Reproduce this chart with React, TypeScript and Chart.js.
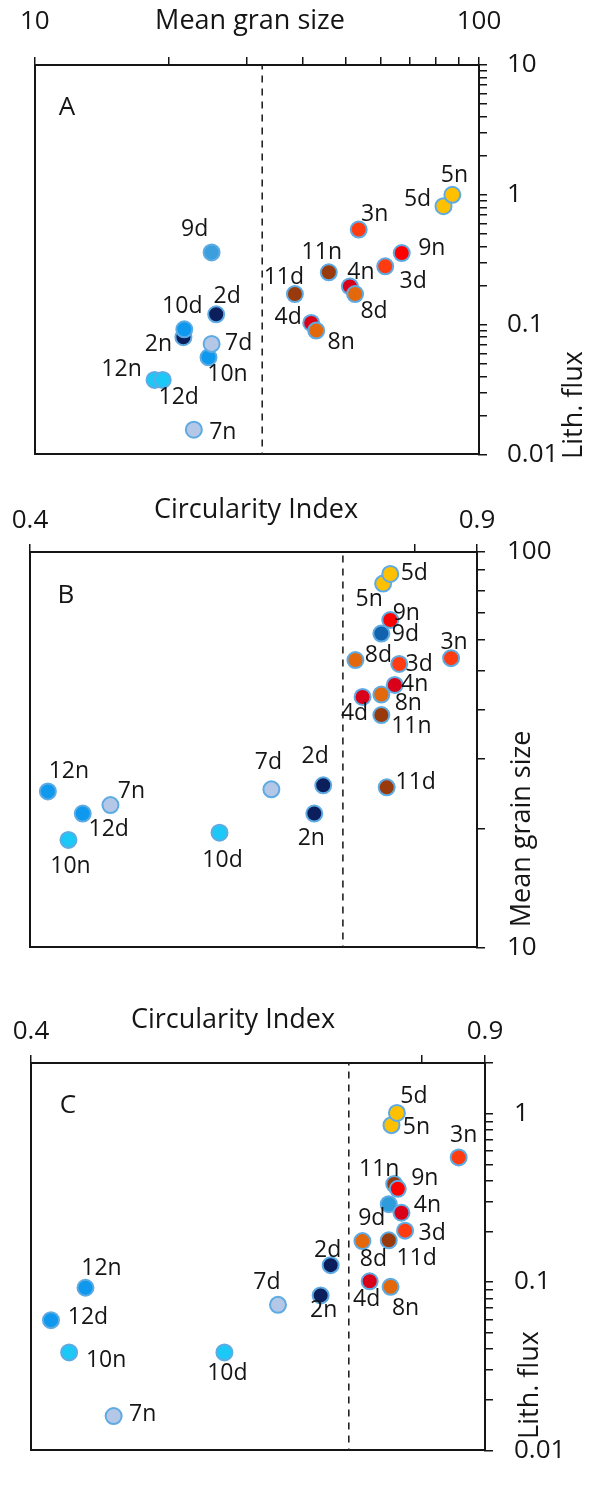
import React, { useEffect, useRef } from 'react';
import { Chart, registerables } from 'chart.js';

Chart.register(...registerables);

const FONT = '"Open Sans", "DejaVu Sans", sans-serif';
const INK = '#151515';
const RING = '#5EABE3';

const GOLD = '#FFC000';
const ORANGE_RED = '#FF3B12';
const RED = '#FF0000';
const DARK_RED = '#D9001A';
const ORANGE = '#E3680C';
const BROWN = '#983A0C';
const NAVY = '#0A1F5C';
const LIGHT = '#B4C7E7';
const MED_BLUE = '#0E98EE';
const CYAN = '#1CC8F5';

// ---------- Panel A : mean grain size vs lithogenic flux ----------
const samplesA = ['12n', '12d', '7n', '10n', '7d', '2n', '10d', '2d', '9d', '11d', '4d', '8n', '4n', '8d', '11n', '3d', '9n', '3n', '5d', '5n'];
const grainSizeA = [18.6, 19.4, 22.8, 24.6, 25.0, 21.6, 21.7, 25.6, 25.0, 38.5, 41.9, 43.0, 51.2, 52.6, 45.9, 61.5, 67.0, 53.6, 83.2, 87.1];
const lithFluxA = [0.0375, 0.0375, 0.0155, 0.056, 0.071, 0.08, 0.092, 0.12, 0.36, 0.172, 0.103, 0.09, 0.197, 0.172, 0.253, 0.281, 0.356, 0.54, 0.817, 1.0];
const colorsA = [CYAN, CYAN, LIGHT, MED_BLUE, LIGHT, NAVY, MED_BLUE, NAVY, '#3A9FDC', BROWN, DARK_RED, ORANGE, DARK_RED, ORANGE, BROWN, ORANGE_RED, RED, ORANGE_RED, GOLD, GOLD];
const thresholdA = 32.5;
const grainTicksA = [10, 20, 30, 40, 50, 60, 70, 80, 90, 100];
const grainMajorA = [10, 100];
const grainMajorLabelsA = ['10', '100'];
const fluxTicksA = [0.01, 0.02, 0.03, 0.04, 0.05, 0.06, 0.07, 0.08, 0.09, 0.1, 0.2, 0.3, 0.4, 0.5, 0.6, 0.7, 0.8, 0.9, 1, 2, 3, 4, 5, 6, 7, 8, 9, 10];
const fluxMajorA = [0.01, 0.1, 1, 10];
const fluxMajorLabelsA = ['0.01', '0.1', '1', '10'];

// ---------- Panel B : circularity index vs mean grain size ----------
const samplesB = ['12n', '12d', '10n', '7n', '10d', '7d', '2n', '2d', '11d', '11n', '4d', '8n', '4n', '8d', '3d', '3n', '9n', '9d', '5n', '5d'];
const circularityB = [0.42, 0.459, 0.443, 0.49, 0.612, 0.67, 0.718, 0.728, 0.799, 0.793, 0.772, 0.793, 0.808, 0.764, 0.813, 0.871, 0.803, 0.793, 0.795, 0.803];
const grainSizeB = [24.8, 21.8, 18.7, 22.9, 19.5, 25.1, 21.8, 25.7, 25.4, 38.7, 43.0, 43.6, 46.1, 53.3, 52.1, 53.9, 67.3, 62.2, 83.2, 88.0];
const colorsB = [MED_BLUE, MED_BLUE, CYAN, LIGHT, CYAN, LIGHT, NAVY, NAVY, BROWN, BROWN, DARK_RED, ORANGE, DARK_RED, ORANGE, ORANGE_RED, ORANGE_RED, RED, '#1262AE', GOLD, GOLD];
const thresholdB = 0.75;

// ---------- Panel C : circularity index vs lithogenic flux ----------
const samplesC = ['12d', '12n', '10n', '7n', '10d', '7d', '2n', '2d', '4d', '8n', '8d', '11d', '3d', '11n', '9n', '9d', '4n', '3n', '5n', '5d'];
const circularityC = [0.422, 0.46, 0.442, 0.491, 0.613, 0.672, 0.719, 0.73, 0.773, 0.796, 0.765, 0.794, 0.812, 0.8, 0.804, 0.794, 0.808, 0.871, 0.797, 0.803];
const lithFluxC = [0.0594, 0.0925, 0.0382, 0.016, 0.0382, 0.0732, 0.0833, 0.126, 0.101, 0.0937, 0.175, 0.177, 0.202, 0.382, 0.358, 0.29, 0.258, 0.55, 0.855, 1.01];
const colorsC = [MED_BLUE, MED_BLUE, CYAN, LIGHT, CYAN, LIGHT, NAVY, NAVY, DARK_RED, ORANGE, ORANGE, BROWN, ORANGE_RED, BROWN, RED, '#2E9BDA', DARK_RED, ORANGE_RED, GOLD, GOLD];
const thresholdC = 0.75;

const circTicks = [0.4, 0.83, 0.9];
const circMajor = [0.4, 0.9];
const circMajorLabels = ['0.4', '0.9'];
const grainTicksB = [10, 20, 30, 40, 50, 60, 70, 80, 90, 100];
const grainMajorB = [10, 100];
const grainMajorLabelsB = ['10', '100'];
const fluxTicksC = [0.01, 0.02, 0.03, 0.04, 0.05, 0.06, 0.07, 0.08, 0.09, 0.1, 0.2, 0.3, 0.4, 0.5, 0.6, 0.7, 0.8, 0.9, 1, 2];
const fluxMajorC = [0.01, 0.1, 1];
const fluxMajorLabelsC = ['0.01', '0.1', '1'];

// label placement (pixel offsets from the point centre)
const labelOffsetA: Record<string, number[]> = {
  '5n': [2, -19], '5d': [-26, -7], '3n': [16, -15], '9n': [30, -5], '3d': [28, 15], '9d': [-17, -23],
  '11n': [-7, -20], '4n': [11, -14], '8d': [19, 17], '11d': [-11, -17], '2d': [11, -18], '10d': [-2, -23],
  '2n': [-25, 7], '7d': [27, 0], '10n': [19, 17], '12n': [-33, -10], '12d': [16, 18], '7n': [29, 3],
  '4d': [-23, -5], '8n': [25, 12],
};
const labelOffsetB: Record<string, number[]> = {
  '5d': [24, 0], '5n': [-14, 16], '9n': [16, -7], '9d': [24, 1], '3n': [3, -16], '8d': [23, -5], '3d': [20, 0],
  '4n': [20, -1], '8n': [27, 9], '4d': [-8, 17], '11n': [30, 11], '11d': [29, -5], '2d': [-8, -29],
  '2n': [-3, 25], '7d': [-3, -27], '10d': [3, 28], '12n': [21, -20], '7n': [21, -14], '12d': [26, 16], '10n': [2, 27],
};
const labelOffsetC: Record<string, number[]> = {
  '5d': [17, -17], '5n': [25, 2], '3n': [5, -22], '11n': [-15, -15], '9n': [27, -10], '4n': [26, -7],
  '9d': [-17, 14], '3d': [27, 3], '8d': [11, 18], '11d': [28, 18], '2d': [-3, -15], '4d': [-3, 18],
  '8n': [15, 22], '12n': [16, -19], '2n': [3, 15], '7d': [-11, -22], '12d': [37, -3], '10n': [37, 8],
  '10d': [3, 21], '7n': [29, -2],
};

type TextItem = { text: string; x: number; y: number; size: number; rot?: number };

type PanelDef = {
  id: string;
  width: number;
  height: number;
  area: { left: number; top: number; right: number; bottom: number };
  xType: 'linear' | 'logarithmic';
  yType: 'linear' | 'logarithmic';
  xMin: number; xMax: number; yMin: number; yMax: number;
  xTicks: number[]; xMajor: number[]; xMajorLabels: string[]; xPad: number;
  yTicks: number[]; yMajor: number[]; yMajorLabels: string[]; yPad: number;
  samples: string[]; xs: number[]; ys: number[]; colors: string[];
  threshold: number;
  offsets: Record<string, number[]>;
  texts: TextItem[];
};

function labelFor(v: number, majors: number[], labels: string[]) {
  const i = majors.findIndex((m) => Math.abs(m - v) <= Math.abs(m) * 1e-6);
  return i >= 0 ? labels[i] : '';
}

function annotPlugin(p: PanelDef) {
  return {
    id: 'annot' + p.id,
    afterDraw(chart: any) {
      const ctx = chart.ctx as CanvasRenderingContext2D;
      ctx.save();
      ctx.fillStyle = INK;
      ctx.textAlign = 'center';
      ctx.textBaseline = 'middle';
      ctx.font = `23px ${FONT}`;
      const meta = chart.getDatasetMeta(0);
      meta.data.forEach((el: any, i: number) => {
        const name = p.samples[i];
        const off = p.offsets[name] || [0, -20];
        ctx.fillText(name, el.x + off[0], el.y + off[1]);
      });
      p.texts.forEach((t) => {
        ctx.save();
        ctx.font = `${t.size}px ${FONT}`;
        ctx.translate(t.x, t.y);
        if (t.rot) ctx.rotate(t.rot);
        ctx.fillText(t.text, 0, 0);
        ctx.restore();
      });
      ctx.restore();
    },
  };
}

function makeConfig(p: PanelDef): any {
  const tickFont = { family: FONT, size: 26 };
  return {
    type: 'scatter',
    data: {
      datasets: [
        {
          data: p.xs.map((x, i) => ({ x, y: p.ys[i] })),
          pointBackgroundColor: p.colors,
          pointBorderColor: RING,
          pointBorderWidth: 2,
          pointRadius: 8,
          pointHoverRadius: 8,
          order: 0,
        },
        {
          data: [
            { x: p.threshold, y: p.yMin },
            { x: p.threshold, y: p.yMax },
          ],
          showLine: true,
          borderColor: '#222',
          borderWidth: 1.6,
          borderDash: [7, 6],
          borderDashOffset: -8,
          pointRadius: 0,
          order: 1,
        },
      ],
    },
    options: {
      responsive: false,
      animation: false,
      events: [],
      layout: {
        padding: { left: p.area.left, top: 0, right: 0, bottom: p.height - p.area.bottom },
      },
      plugins: { legend: { display: false }, tooltip: { enabled: false } },
      scales: {
        x: {
          type: p.xType,
          position: 'top',
          min: p.xMin,
          max: p.xMax,
          afterBuildTicks: (s: any) => {
            s.ticks = p.xTicks.map((v) => ({ value: v }));
          },
          afterFit: (s: any) => {
            s.height = p.area.top;
          },
          grid: { display: true, drawOnChartArea: false, drawTicks: true, tickLength: 8, color: INK, lineWidth: 1.5 },
          border: { display: true, color: INK, width: 2 },
          ticks: {
            autoSkip: false,
            maxRotation: 0,
            padding: p.xPad,
            font: tickFont,
            color: INK,
            callback: (v: number) => labelFor(v, p.xMajor, p.xMajorLabels),
          },
        },
        y: {
          type: p.yType,
          position: 'right',
          min: p.yMin,
          max: p.yMax,
          afterBuildTicks: (s: any) => {
            s.ticks = p.yTicks.map((v) => ({ value: v }));
          },
          afterFit: (s: any) => {
            s.width = p.width - p.area.right;
          },
          grid: { display: true, drawOnChartArea: false, drawTicks: true, tickLength: 8, color: INK, lineWidth: 1.5 },
          border: { display: true, color: INK, width: 2 },
          ticks: {
            autoSkip: false,
            padding: p.yPad,
            font: tickFont,
            color: INK,
            callback: (v: number) => labelFor(v, p.yMajor, p.yMajorLabels),
          },
        },
        x2: {
          type: 'linear',
          position: 'bottom',
          min: 0,
          max: 1,
          grid: { display: false },
          ticks: { display: false },
          border: { display: true, color: INK, width: 2 },
          afterFit: (s: any) => {
            s.height = 0;
          },
        },
        y2: {
          type: 'linear',
          position: 'left',
          min: 0,
          max: 1,
          grid: { display: false },
          ticks: { display: false },
          border: { display: true, color: INK, width: 2 },
          afterFit: (s: any) => {
            s.width = 0;
          },
        },
      },
    },
    plugins: [annotPlugin(p)],
  };
}

const ROT = -Math.PI / 2;

const panelA: PanelDef = {
  id: 'A', width: 589, height: 490,
  area: { left: 26, top: 65, right: 479, bottom: 473 },
  xType: 'logarithmic', yType: 'logarithmic',
  xMin: 10, xMax: 100, yMin: 0.01, yMax: 10,
  xTicks: grainTicksA, xMajor: grainMajorA, xMajorLabels: grainMajorLabelsA, xPad: 20,
  yTicks: fluxTicksA, yMajor: fluxMajorA, yMajorLabels: fluxMajorLabelsA, yPad: 20,
  samples: samplesA, xs: grainSizeA, ys: lithFluxA, colors: colorsA,
  threshold: thresholdA, offsets: labelOffsetA,
  texts: [
    { text: 'Mean gran size', x: 250, y: 21, size: 27 },
    { text: 'Lith. flux', x: 574, y: 405, size: 27, rot: ROT },
    { text: 'A', x: 67, y: 108, size: 26 },
  ],
};

const panelB: PanelDef = {
  id: 'B', width: 589, height: 495,
  area: { left: 30, top: 62, right: 477, bottom: 475 },
  xType: 'linear', yType: 'logarithmic',
  xMin: 0.4, xMax: 0.9, yMin: 10, yMax: 100,
  xTicks: circTicks, xMajor: circMajor, xMajorLabels: circMajorLabels, xPad: 8,
  yTicks: grainTicksB, yMajor: grainMajorB, yMajorLabels: grainMajorLabelsB, yPad: 22,
  samples: samplesB, xs: circularityB, ys: grainSizeB, colors: colorsB,
  threshold: thresholdB, offsets: labelOffsetB,
  texts: [
    { text: 'Circularity Index', x: 256, y: 20, size: 27 },
    { text: 'Mean grain size', x: 522, y: 339, size: 27, rot: ROT },
    { text: 'B', x: 66, y: 106, size: 26 },
  ],
};

const panelC: PanelDef = {
  id: 'C', width: 589, height: 502,
  area: { left: 31, top: 78, right: 485, bottom: 485 },
  xType: 'linear', yType: 'logarithmic',
  xMin: 0.4, xMax: 0.9, yMin: 0.01, yMax: 2,
  xTicks: circTicks, xMajor: circMajor, xMajorLabels: circMajorLabels, xPad: 8,
  yTicks: fluxTicksC, yMajor: fluxMajorC, yMajorLabels: fluxMajorLabelsC, yPad: 21,
  samples: samplesC, xs: circularityC, ys: lithFluxC, colors: colorsC,
  threshold: thresholdC, offsets: labelOffsetC,
  texts: [
    { text: 'Circularity Index', x: 233, y: 35, size: 27 },
    { text: 'Lith. flux', x: 530, y: 400, size: 27, rot: ROT },
    { text: 'C', x: 68, y: 121, size: 26 },
  ],
};

const panels = [
  { def: panelA, top: 0 },
  { def: panelB, top: 490 },
  { def: panelC, top: 985 },
];

export default function App() {
  const refs = [useRef<HTMLCanvasElement>(null), useRef<HTMLCanvasElement>(null), useRef<HTMLCanvasElement>(null)];

  useEffect(() => {
    const charts = panels.map((p, i) => new Chart(refs[i].current as HTMLCanvasElement, makeConfig(p.def)));
    return () => charts.forEach((c) => c.destroy());
  }, []);

  return (
    <div style={{ position: 'absolute', left: 0, top: 0, width: 589, height: 1487, background: '#ffffff' }}>
      {panels.map((p, i) => (
        <canvas
          key={p.def.id}
          ref={refs[i]}
          width={p.def.width}
          height={p.def.height}
          style={{ position: 'absolute', left: 0, top: p.top, width: p.def.width, height: p.def.height }}
        />
      ))}
    </div>
  );
}
